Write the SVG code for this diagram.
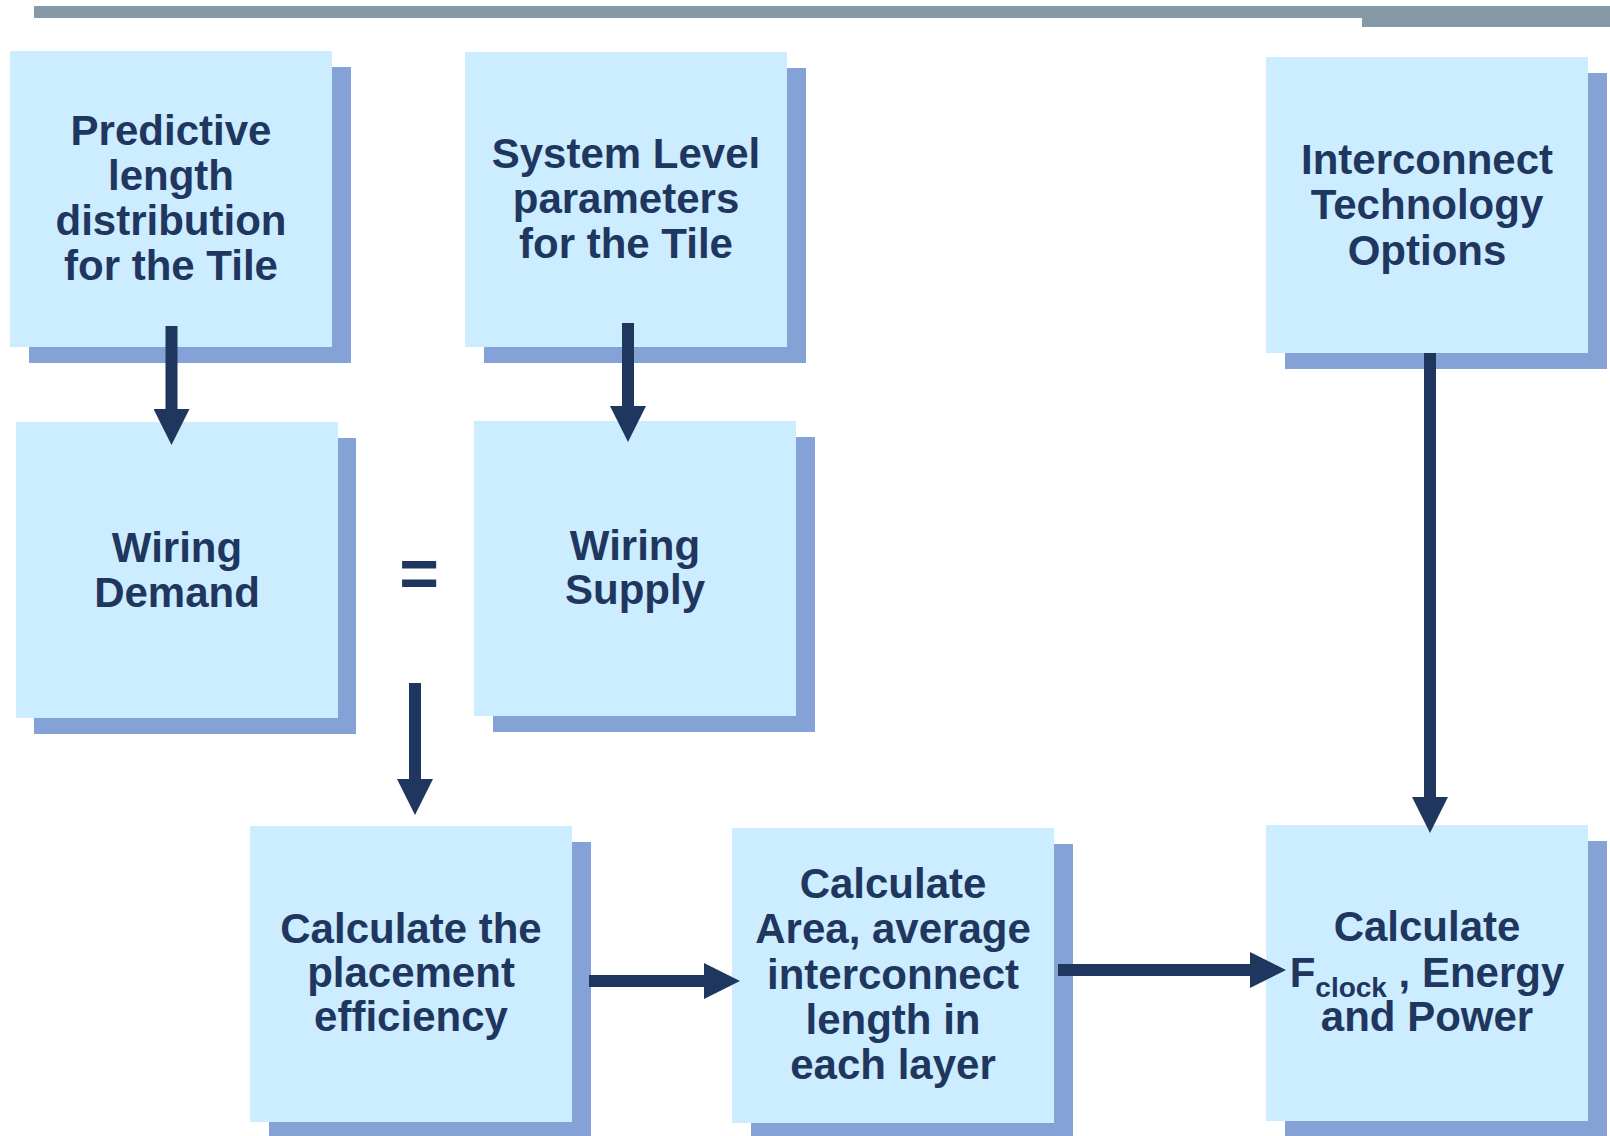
<svg xmlns="http://www.w3.org/2000/svg" width="1610" height="1136" viewBox="0 0 1610 1136">
<style>
.box{fill:#CCECFF}
.sh{fill:#85A2D6}
.t{font-family:"Liberation Sans",Arial,sans-serif;font-weight:bold;font-size:42px;fill:#1F365E;text-anchor:middle}
.c{stroke:#1F365E;stroke-width:12;fill:none}
</style>
<defs>
<marker id="ah" viewBox="0 0 36 36" markerWidth="36" markerHeight="36" refX="0" refY="18" orient="auto" markerUnits="userSpaceOnUse">
<path d="M0,0 L36,18 L0,36 z" fill="#1F365E"/>
</marker>
</defs>
<rect x="34" y="6" width="1328" height="12" fill="#8599A6"/>
<rect x="1362" y="6" width="248" height="21" fill="#8599A6"/>

<g id="n1">
<rect class="sh" x="29" y="67" width="322" height="296"/>
<rect class="box" x="10" y="51" width="322" height="296"/>
<text class="t"><tspan x="171" y="145">Predictive</tspan><tspan x="171" y="190">length</tspan><tspan x="171" y="235">distribution</tspan><tspan x="171" y="280">for the Tile</tspan></text>
</g>
<g id="n2">
<rect class="sh" x="484" y="68" width="322" height="295"/>
<rect class="box" x="465" y="52" width="322" height="295"/>
<text class="t"><tspan x="626" y="168">System Level</tspan><tspan x="626" y="213">parameters</tspan><tspan x="626" y="258">for the Tile</tspan></text>
</g>
<g id="n3">
<rect class="sh" x="1285" y="73" width="322" height="296"/>
<rect class="box" x="1266" y="57" width="322" height="296"/>
<text class="t"><tspan x="1427" y="174">Interconnect</tspan><tspan x="1427" y="219">Technology</tspan><tspan x="1427" y="265">Options</tspan></text>
</g>
<g id="n4">
<rect class="sh" x="34" y="438" width="322" height="296"/>
<rect class="box" x="16" y="422" width="322" height="296"/>
<text class="t"><tspan x="177" y="562">Wiring</tspan><tspan x="177" y="607">Demand</tspan></text>
</g>
<g id="eq">
<text class="t" x="419" y="597" style="font-size:68px">=</text>
</g>
<g id="n5">
<rect class="sh" x="493" y="437" width="322" height="295"/>
<rect class="box" x="474" y="421" width="322" height="295"/>
<text class="t"><tspan x="635" y="560">Wiring</tspan><tspan x="635" y="604">Supply</tspan></text>
</g>
<g id="n6">
<rect class="sh" x="269" y="842" width="322" height="296"/>
<rect class="box" x="250" y="826" width="322" height="296"/>
<text class="t"><tspan x="411" y="943">Calculate the</tspan><tspan x="411" y="987">placement</tspan><tspan x="411" y="1031">efficiency</tspan></text>
</g>
<g id="n7">
<rect class="sh" x="751" y="844" width="322" height="296"/>
<rect class="box" x="732" y="828" width="322" height="295"/>
<text class="t"><tspan x="893" y="898">Calculate</tspan><tspan x="893" y="943">Area, average</tspan><tspan x="893" y="989">interconnect</tspan><tspan x="893" y="1034">length in</tspan><tspan x="893" y="1079">each layer</tspan></text>
</g>
<g id="n8">
<rect class="sh" x="1285" y="841" width="322" height="296"/>
<rect class="box" x="1266" y="825" width="322" height="296"/>
<text class="t"><tspan x="1427" y="941">Calculate</tspan><tspan x="1427" y="987">F</tspan><tspan dy="10" style="font-size:28px">clock</tspan><tspan dy="-10"> , Energy</tspan><tspan x="1427" y="1031">and Power</tspan></text>
</g>

<g id="connectors">
<line class="c" x1="171.5" y1="326" x2="171.5" y2="409" marker-end="url(#ah)"/>
<line class="c" x1="628" y1="323" x2="628" y2="406" marker-end="url(#ah)"/>
<line class="c" x1="415" y1="683" x2="415" y2="779" marker-end="url(#ah)"/>
<line class="c" x1="1430" y1="353" x2="1430" y2="797" marker-end="url(#ah)"/>
<line class="c" x1="589" y1="981" x2="704" y2="981" marker-end="url(#ah)"/>
<line class="c" x1="1058" y1="970" x2="1250" y2="970" marker-end="url(#ah)"/>
</g>
</svg>
